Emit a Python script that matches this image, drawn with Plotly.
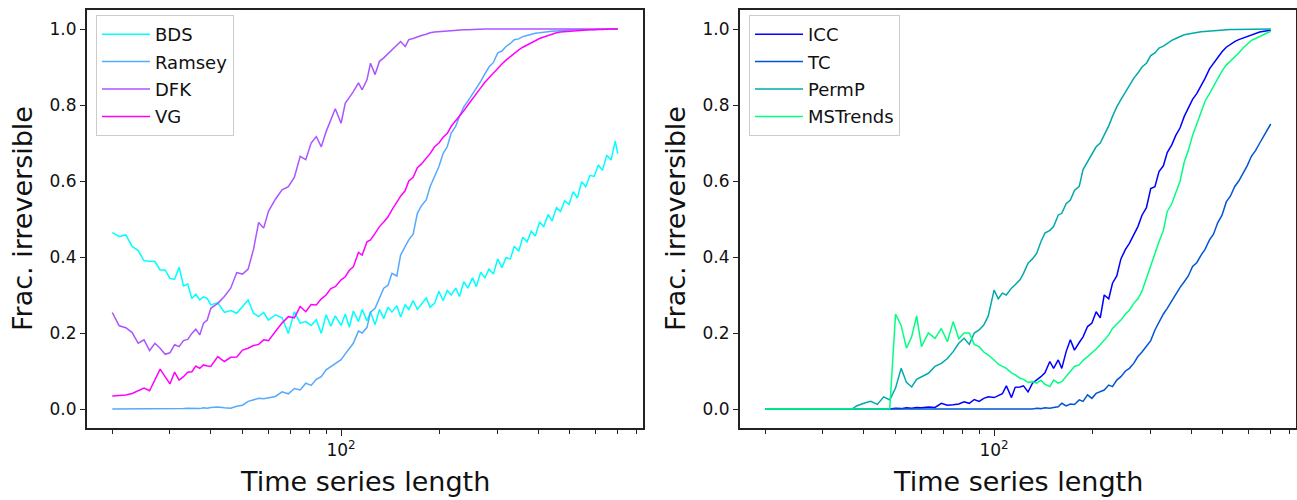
import plotly.graph_objects as go

# Time series lengths (x, log axis)
lengths = [20, 21, 22, 23, 24, 25, 26, 27, 28, 29, 30, 31, 32, 33, 34, 35, 36, 37, 38, 39, 40,
           42, 44, 46, 48, 50, 52, 54, 56, 58, 60,
           63, 66, 69, 72, 75, 78, 81, 84, 87, 90, 93, 96,
           100, 103, 106, 109, 113, 116, 120, 123, 127, 131, 135, 139, 143, 148, 152,
           157, 161, 166, 171, 176, 182, 187, 193, 199, 205, 211, 217, 224, 230, 237,
           244, 252, 259, 267, 275, 283, 292, 301, 310, 319, 329, 338, 349, 359, 370,
           381, 392, 404, 416, 429, 441, 455, 468, 482, 497, 512, 527, 543, 559, 576,
           593, 611, 629, 648, 668, 688, 700]

# ---- left panel ----
bds = [0.464, 0.454, 0.458, 0.428, 0.417, 0.390, 0.389, 0.388, 0.366, 0.366, 0.344, 0.341, 0.373, 0.324, 0.329, 0.291, 0.302, 0.287, 0.295, 0.291, 0.274,
       0.280, 0.254, 0.259, 0.252, 0.271, 0.287, 0.252, 0.243, 0.254, 0.234,
       0.248, 0.240, 0.199, 0.256, 0.226, 0.230, 0.220, 0.235, 0.199, 0.248, 0.218, 0.245,
       0.220, 0.250, 0.215, 0.258, 0.230, 0.262, 0.232, 0.255, 0.222, 0.262, 0.238, 0.268, 0.255, 0.272, 0.242,
       0.275, 0.262, 0.285, 0.262, 0.275, 0.292, 0.268, 0.278, 0.310, 0.285, 0.312, 0.300, 0.318, 0.296, 0.335,
       0.318, 0.345, 0.322, 0.360, 0.345, 0.368, 0.355, 0.395, 0.372, 0.398, 0.395, 0.428, 0.415, 0.452, 0.440,
       0.468, 0.455, 0.492, 0.480, 0.512, 0.495, 0.530, 0.520, 0.548, 0.538, 0.572, 0.555, 0.598, 0.585, 0.615,
       0.612, 0.642, 0.628, 0.668, 0.655, 0.705, 0.672]

ramsey = [0.000, 0.000, 0.000, 0.001, 0.000, 0.000, 0.001, 0.000, 0.000, 0.000, 0.001, 0.001, 0.000, 0.001, 0.002, 0.001, 0.002, 0.001, 0.003, 0.002, 0.004,
          0.005, 0.003, 0.002, 0.007, 0.010, 0.020, 0.024, 0.028, 0.027, 0.029,
          0.033, 0.045, 0.040, 0.054, 0.050, 0.068, 0.062, 0.078, 0.085, 0.103, 0.112, 0.120,
          0.130, 0.145, 0.160, 0.173, 0.205, 0.200, 0.215, 0.255, 0.265, 0.290, 0.318, 0.325, 0.357, 0.350, 0.405,
          0.428, 0.445, 0.460, 0.515, 0.535, 0.550, 0.585, 0.612, 0.638, 0.673, 0.690, 0.726, 0.744, 0.770, 0.795,
          0.810, 0.828, 0.845, 0.862, 0.882, 0.900, 0.912, 0.937, 0.942, 0.954, 0.962, 0.972, 0.974, 0.980, 0.983,
          0.986, 0.989, 0.990, 0.992, 0.993, 0.994, 0.995, 0.996, 0.996, 0.997, 0.998, 0.998, 0.998, 0.999, 0.999,
          0.999, 1.000, 0.999, 1.000, 1.000, 1.000, 1.000]

dfk = [0.254, 0.219, 0.214, 0.201, 0.173, 0.182, 0.154, 0.173, 0.160, 0.144, 0.148, 0.169, 0.164, 0.180, 0.183, 0.199, 0.210, 0.195, 0.226, 0.234, 0.265,
       0.278, 0.296, 0.318, 0.359, 0.355, 0.368, 0.420, 0.491, 0.476, 0.520,
       0.552, 0.577, 0.585, 0.610, 0.665, 0.656, 0.700, 0.717, 0.690, 0.730, 0.760, 0.790,
       0.752, 0.805, 0.820, 0.835, 0.858, 0.840, 0.867, 0.910, 0.880, 0.915, 0.924, 0.935, 0.945, 0.959, 0.967,
       0.954, 0.972, 0.975, 0.980, 0.983, 0.986, 0.990, 0.992, 0.993, 0.994, 0.996, 0.996, 0.997, 0.998, 0.998,
       0.998, 0.999, 0.999, 0.999, 1.000, 1.000, 1.000, 1.000, 1.000, 1.000, 1.000, 1.000, 1.000, 1.000, 1.000,
       1.000, 1.000, 1.000, 1.000, 1.000, 1.000, 1.000, 1.000, 1.000, 1.000, 1.000, 1.000, 1.000, 1.000, 1.000,
       1.000, 1.000, 1.000, 1.000, 1.000, 1.000, 1.000]

vg = [0.034, 0.035, 0.037, 0.041, 0.048, 0.055, 0.048, 0.076, 0.105, 0.085, 0.066, 0.097, 0.076, 0.085, 0.097, 0.098, 0.113, 0.107, 0.116, 0.113, 0.112,
      0.138, 0.125, 0.136, 0.137, 0.155, 0.160, 0.167, 0.170, 0.182, 0.180,
      0.204, 0.226, 0.243, 0.240, 0.270, 0.256, 0.275, 0.274, 0.290, 0.300, 0.317, 0.322,
      0.340, 0.348, 0.365, 0.374, 0.412, 0.405, 0.440, 0.445, 0.462, 0.480, 0.492, 0.505, 0.524, 0.545, 0.560,
      0.575, 0.600, 0.610, 0.635, 0.645, 0.660, 0.672, 0.690, 0.700, 0.715, 0.725, 0.744, 0.758, 0.770, 0.785,
      0.800, 0.815, 0.830, 0.845, 0.860, 0.872, 0.885, 0.897, 0.908, 0.918, 0.928, 0.936, 0.945, 0.952, 0.958,
      0.964, 0.970, 0.975, 0.979, 0.983, 0.987, 0.990, 0.992, 0.993, 0.994, 0.995, 0.996, 0.997, 0.997, 0.998,
      0.998, 0.999, 0.999, 1.000, 1.000, 1.000, 1.000]

# ---- right panel ----
icc = [0.0] * 21 + \
      [0.000, 0.000, 0.001, 0.000, 0.002, 0.001, 0.003, 0.002, 0.004, 0.003,
       0.005, 0.004, 0.015, 0.010, 0.011, 0.013, 0.019, 0.015, 0.025, 0.020, 0.028, 0.032,
       0.030, 0.036, 0.040, 0.061, 0.030, 0.057, 0.058, 0.061, 0.045, 0.068, 0.076, 0.085, 0.095, 0.125, 0.107,
       0.129, 0.107, 0.151, 0.182, 0.155, 0.175, 0.190, 0.217, 0.226, 0.256, 0.240, 0.300, 0.290, 0.331, 0.350,
       0.395, 0.420, 0.436, 0.460, 0.480, 0.510, 0.530, 0.580, 0.585, 0.625, 0.640, 0.675, 0.695, 0.720, 0.740,
       0.770, 0.790, 0.815, 0.830, 0.850, 0.870, 0.895, 0.910, 0.925, 0.940, 0.952, 0.960, 0.967, 0.972, 0.976,
       0.980, 0.985, 0.988, 0.992, 0.994, 0.996, 0.997]

tc = [0.0] * 21 + [0.0] * 10 + [0.0] * 12 + \
     [0.000, 0.000, 0.000, 0.000, 0.000, 0.000, 0.000, 0.000, 0.001, 0.000, 0.002, 0.001, 0.003, 0.002, 0.004,
      0.006, 0.015, 0.008, 0.013, 0.012, 0.024, 0.020, 0.037, 0.028, 0.041, 0.045, 0.050, 0.063, 0.059, 0.076,
      0.085, 0.100, 0.107, 0.120, 0.138, 0.150, 0.164, 0.180, 0.208, 0.230, 0.250, 0.265, 0.285, 0.300, 0.320,
      0.335, 0.350, 0.375, 0.385, 0.405, 0.420, 0.445, 0.460, 0.490, 0.510, 0.545, 0.560, 0.585, 0.600, 0.620,
      0.640, 0.665, 0.680, 0.700, 0.720, 0.740, 0.750]

permp = [0.0] * 17 + [0.001, 0.008, 0.012, 0.015] + \
        [0.020, 0.012, 0.032, 0.024, 0.055, 0.107, 0.070, 0.058, 0.078, 0.085,
         0.094, 0.112, 0.120, 0.133, 0.151, 0.173, 0.186, 0.170, 0.200, 0.208, 0.221, 0.245,
         0.313, 0.290, 0.305, 0.300, 0.318, 0.327, 0.340, 0.357, 0.384, 0.395, 0.410, 0.440, 0.463, 0.470, 0.480,
         0.510, 0.515, 0.540, 0.550, 0.575, 0.586, 0.630, 0.650, 0.673, 0.690, 0.700, 0.720, 0.745, 0.770, 0.795,
         0.814, 0.835, 0.850, 0.870, 0.884, 0.900, 0.910, 0.930, 0.937, 0.950, 0.955, 0.963, 0.970, 0.975, 0.980,
         0.985, 0.987, 0.990, 0.991, 0.993, 0.994, 0.995, 0.996, 0.997, 0.998, 0.998, 0.999, 0.999, 0.999, 1.000,
         1.000, 1.000, 1.000, 1.000, 1.000, 1.000, 1.000]

mstrends = [0.0] * 21 + \
           [0.000, 0.000, 0.000, 0.000, 0.250, 0.220, 0.160, 0.190, 0.245, 0.164,
            0.200, 0.186, 0.212, 0.177, 0.230, 0.185, 0.200, 0.200, 0.170, 0.164, 0.150, 0.142,
            0.129, 0.118, 0.112, 0.107, 0.095, 0.090, 0.081, 0.078, 0.070, 0.072, 0.068, 0.076, 0.065, 0.059, 0.076,
            0.068, 0.072, 0.085, 0.100, 0.112, 0.116, 0.128, 0.138, 0.147, 0.158, 0.169, 0.180, 0.195, 0.212, 0.222,
            0.234, 0.250, 0.260, 0.278, 0.290, 0.310, 0.345, 0.380, 0.410, 0.440, 0.470, 0.520, 0.540, 0.570, 0.600,
            0.650, 0.680, 0.720, 0.750, 0.780, 0.810, 0.830, 0.850, 0.870, 0.890, 0.905, 0.915, 0.928, 0.937, 0.950,
            0.960, 0.970, 0.975, 0.980, 0.985, 0.990, 0.994]

left_names = ["BDS", "Ramsey", "DFK", "VG"]
left_series = [bds, ramsey, dfk, vg]
left_colors = ["#00ffff", "#55aaff", "#aa55ff", "#ff00ff"]
right_names = ["ICC", "TC", "PermP", "MSTrends"]
right_series = [icc, tc, permp, mstrends]
right_colors = ["#0000ff", "#0055d4", "#00aaaa", "#00ff80"]

for s in left_series + right_series:
    assert len(s) == len(lengths), len(s)

W, H = 1297, 500
FONT = "DejaVu Sans"
AX = "#222222"

fig = go.Figure()
for name, vals, col in zip(left_names, left_series, left_colors):
    fig.add_trace(go.Scatter(x=lengths, y=vals, mode="lines", name=name,
                             line=dict(color=col, width=1.5),
                             xaxis="x", yaxis="y", legend="legend", legendgroup=name))
for name, vals, col in zip(right_names, right_series, right_colors):
    fig.add_trace(go.Scatter(x=lengths, y=vals, mode="lines", name=name,
                             line=dict(color=col, width=1.5),
                             xaxis="x2", yaxis="y2", legend="legend2", legendgroup=name))

xr = [1.2238, 2.9223]
minor_vals = [20, 30, 40, 50, 60, 70, 80, 90, 200, 300, 400, 500, 600, 700, 800]


def xaxis_cfg(dom, anchor):
    return dict(type="log", range=xr, domain=dom, anchor=anchor,
                tickmode="array", tickvals=[100], ticktext=["10<sup>2</sup>"],
                ticks="outside", ticklen=6, tickwidth=1.3, tickcolor=AX,
                minor=dict(tickmode="array", tickvals=minor_vals, ticks="outside",
                           ticklen=3.5, tickwidth=1, tickcolor=AX, showgrid=False),
                showline=True, mirror=True, linecolor=AX, linewidth=2,
                showgrid=False, zeroline=False, automargin=False,
                tickfont=dict(family=FONT, size=17, color="#111"))


def yaxis_cfg(anchor):
    return dict(range=[-0.05, 1.05], domain=[0, 1], anchor=anchor,
                tickmode="array", tickvals=[0, 0.2, 0.4, 0.6, 0.8, 1.0],
                ticktext=["0.0", "0.2", "0.4", "0.6", "0.8", "1.0"],
                ticks="outside", ticklen=5, tickwidth=1.3, tickcolor=AX,
                showline=True, mirror=True, linecolor=AX, linewidth=2,
                showgrid=False, zeroline=False, automargin=False,
                tickfont=dict(family=FONT, size=17, color="#111"))


def legend_cfg(xpx):
    return dict(x=xpx / W, y=(428 - 15) / 418, xanchor="left", yanchor="top",
                bgcolor="rgba(255,255,255,0.85)", bordercolor="#cccccc", borderwidth=1,
                font=dict(family=FONT, size=18, color="#111"),
                traceorder="grouped", tracegroupgap=1, itemwidth=48)


fig.update_layout(
    width=W, height=H,
    margin=dict(l=0, r=0, t=10, b=72, pad=0),
    paper_bgcolor="white", plot_bgcolor="white",
    font=dict(family=FONT, color="#111"),
    showlegend=True,
    xaxis=xaxis_cfg([87 / W, 643 / W], "y"),
    yaxis=yaxis_cfg("x"),
    xaxis2=xaxis_cfg([740 / W, 1296 / W], "y2"),
    yaxis2=yaxis_cfg("x2"),
    legend=legend_cfg(96),
    legend2=legend_cfg(749),
)

title_font = dict(family=FONT, size=27, color="#111")
for xc, yc_px in [((87 + 643) / 2, 22), ((740 + 1296) / 2, 675)]:
    fig.add_annotation(text="Time series length", xref="paper", yref="paper",
                       x=xc / W, y=(428 - 481) / 418, xanchor="center", yanchor="middle",
                       showarrow=False, font=title_font)
    fig.add_annotation(text="Frac. irreversible", xref="paper", yref="paper",
                       x=yc_px / W, y=0.5, xanchor="center", yanchor="middle",
                       textangle=-90, showarrow=False, font=title_font)

fig.write_html("out.html")
